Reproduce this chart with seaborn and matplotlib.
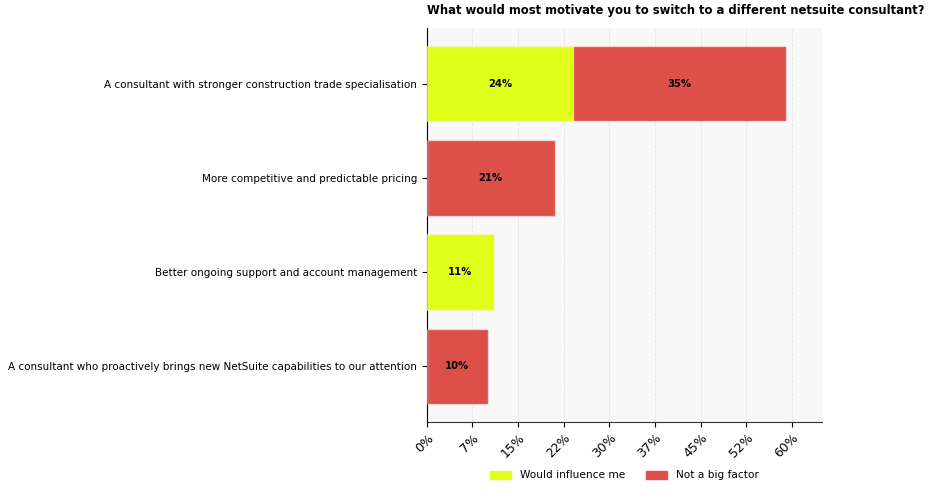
import numpy as np
import pandas as pd
import matplotlib
matplotlib.use("Agg")
import matplotlib.pyplot as plt
import seaborn as sns
from matplotlib.patches import Patch

sns.set_style("ticks")
plt.rcParams['font.family'] = ['DejaVu Sans']
plt.rcParams['text.color'] = 'black'
plt.rcParams['xtick.color'] = 'black'
plt.rcParams['ytick.color'] = 'black'

categories = [
    "A consultant with stronger construction trade specialisation",
    "More competitive and predictable pricing",
    "Better ongoing support and account management",
    "A consultant who proactively brings new NetSuite capabilities to our attention",
]
would_influence = [24, 0, 11, 0]
not_big_factor = [35, 21, 0, 10]
series_names = ["Would influence me", "Not a big factor"]
tick_values = [0, 7.5, 15, 22.5, 30, 37.5, 45, 52.5, 60]

yellow = "#e2ff1a"
red = "#dd504a"

df = pd.DataFrame({
    "category": categories,
    "influence": would_influence,
    "notbig": not_big_factor,
})
df["total"] = df["influence"] + df["notbig"]

fig = plt.figure(figsize=(9.36, 4.94), dpi=100)
ax = fig.add_axes([0.456, 0.146, 0.422, 0.797])
ax.set_facecolor("#f8f8f8")

# stacked: draw totals in red, then the first series on top
sns.barplot(data=df, y="category", x="total", color=red, orient="h", width=0.8,
            edgecolor=(1, 1, 1, 0.5), linewidth=1, saturation=1, ax=ax, zorder=2)
sns.barplot(data=df, y="category", x="influence", color=yellow, orient="h", width=0.8,
            edgecolor=(1, 1, 1, 0.5), linewidth=1, saturation=1, ax=ax, zorder=3)

for i, row in df.iterrows():
    if row["influence"] > 0:
        ax.text(row["influence"] / 2, i, f"{row['influence']:.0f}%", ha="center", va="center",
                fontsize=7.2, fontweight="bold", color="black", zorder=4)
    if row["notbig"] > 0:
        ax.text(row["influence"] + row["notbig"] / 2, i, f"{row['notbig']:.0f}%", ha="center",
                va="center", fontsize=7.2, fontweight="bold", color="black", zorder=4)

ax.set_xlim(0, df["total"].max() * 1.1)
ax.set_ylim(len(categories) - 1 + 0.59, -0.59)
ax.set_xticks(tick_values)
ax.set_xticklabels([f"{int(v)}%" for v in tick_values], rotation=45, ha="right",
                   rotation_mode="anchor", fontsize=9)
ax.tick_params(axis="y", labelsize=7.5)
ax.set_xlabel("")
ax.set_ylabel("")
ax.grid(axis="x", linestyle="--", color="#e4e4e4", linewidth=0.6, zorder=0)
ax.set_axisbelow(True)
sns.despine(ax=ax)
ax.spines["left"].set_color("black")
ax.spines["bottom"].set_color("#333333")

ax.set_title("What would most motivate you to switch to a different netsuite consultant?",
             loc="left", fontsize=8.4, fontweight="bold", pad=10)

handles = [Patch(color=yellow), Patch(color=red)]
fig.legend(handles, series_names, loc="center", bbox_to_anchor=(0.667, 0.038), ncol=2,
           frameon=False, fontsize=7.6, handlelength=2.0, handleheight=0.8, columnspacing=2)

fig.savefig("out.png", dpi=100)
